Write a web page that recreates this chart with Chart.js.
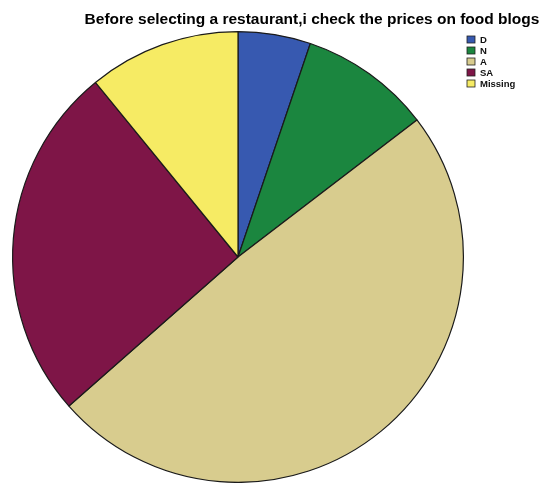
<!DOCTYPE html>
<html>
<head>
<meta charset="utf-8">
<script src="https://cdn.jsdelivr.net/npm/chart.js@4"></script>
<style>
  html, body { margin: 0; padding: 0; background: #fff; overflow: hidden; }
  #wrap { width: 546px; height: 483px; }
</style>
</head>
<body>
<div id="wrap"><canvas id="priceChart" width="546" height="483"></canvas></div>
<script>
const titleText = "Before selecting a restaurant,i check the prices on food blogs";
const answerLabels = ["D", "N", "A", "SA", "Missing"];
const answerPercents = [5.2, 9.4, 48.9, 25.6, 10.9];
const sliceColors = ["#3759b0", "#1b863f", "#d8cc8e", "#7e1547", "#f6eb64"];

// title and legend drawn straight onto the canvas so they sit where we want them
const headerPlugin = {
  id: "header",
  afterDraw(chart) {
    const ctx = chart.ctx;
    ctx.save();
    ctx.fillStyle = "#000";
    ctx.font = "bold 15.5px 'Liberation Sans', Arial, sans-serif";
    ctx.textAlign = "center";
    ctx.textBaseline = "alphabetic";
    ctx.fillText(titleText, 312, 24);

    ctx.font = "bold 9.5px 'Liberation Sans', Arial, sans-serif";
    ctx.textAlign = "left";
    ctx.textBaseline = "middle";
    answerLabels.forEach(function (label, i) {
      const y = 36 + i * 11;
      ctx.fillStyle = sliceColors[i];
      ctx.fillRect(467, y, 8, 7);
      ctx.strokeStyle = "#222";
      ctx.lineWidth = 0.8;
      ctx.strokeRect(467, y, 8, 7);
      ctx.fillStyle = "#111";
      ctx.fillText(label, 480, y + 4);
    });
    ctx.restore();
  }
};

const canvas = document.getElementById("priceChart");
new Chart(canvas.getContext("2d"), {
  type: "pie",
  data: {
    labels: answerLabels,
    datasets: [{
      data: answerPercents,
      backgroundColor: sliceColors,
      borderColor: "#1a1a1a",
      borderWidth: 1.2,
      hoverOffset: 0
    }]
  },
  options: {
    responsive: false,
    animation: false,
    layout: { padding: { left: 11, right: 81, top: 31, bottom: -2 } },
    plugins: {
      legend: { display: false },
      title: { display: false },
      tooltip: { enabled: false }
    }
  },
  plugins: [headerPlugin]
});
</script>
</body>
</html>
